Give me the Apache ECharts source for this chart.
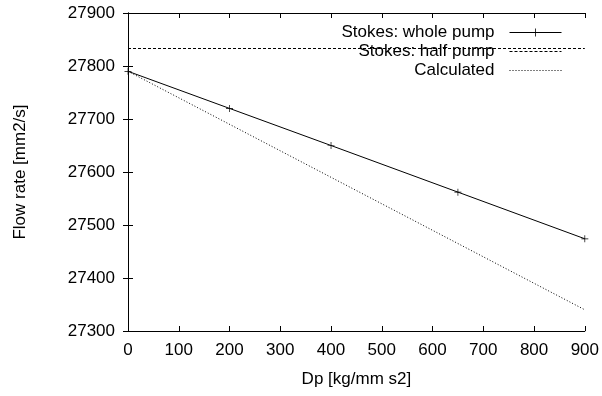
<!DOCTYPE html>
<html>
<head>
<meta charset="utf-8">
<script src="https://cdn.jsdelivr.net/npm/echarts@6/dist/echarts.min.js"></script>
<style>
  html, body { margin: 0; padding: 0; background: #fff; }
  #chart { width: 602px; height: 396px; }
</style>
</head>
<body>
<div id="chart"></div>
<script>
// values
const wholePumpX = [0, 200, 400, 650, 900];
const wholePumpY = [27790, 27720, 27650, 27562, 27474];
const halfPumpX = [0, 900];
const halfPumpY = [27833, 27833];
const calculatedX = [0, 900];
const calculatedY = [27790, 27340];

const xTicks = { min: 0, max: 900, interval: 100 };
const yTicks = { min: 27300, max: 27900, interval: 100 };

const font = 'Liberation Sans, Arial, sans-serif';
const fontSize = 17;
const plus = 'path://M0,4.5h10v1h-10z M4.5,0h1v10h-1z';

const zip = (xs, ys) => xs.map((x, i) => [x, ys[i]]);

const inTicks = { show: true, inside: true, length: 5, lineStyle: { color: '#000' } };
const axisLine = { show: true, lineStyle: { color: '#000', width: 1 } };
const noSymbol = { itemStyle: { opacity: 0 } };

const chart = echarts.init(document.getElementById('chart'), null, { renderer: 'canvas' });

chart.setOption({
  animation: false,
  textStyle: { fontFamily: font },
  grid: { left: 128, right: 16, top: 13, bottom: 65 },
  legend: {
    orient: 'vertical',
    right: 35,
    top: 19,
    align: 'right',
    itemWidth: 52,
    itemHeight: 10,
    itemGap: 2,
    lineStyle: { width: 1 },
    textStyle: { fontSize: fontSize, color: '#000', fontFamily: font, padding: [0, 10, 0, 0] },
    data: [
      { name: 'Stokes: whole pump' },
      { name: 'Stokes: half pump', ...noSymbol },
      { name: 'Calculated', ...noSymbol }
    ]
  },
  xAxis: [
    {
      type: 'value',
      ...xTicks,
      name: 'Dp [kg/mm s2]',
      nameLocation: 'middle',
      nameGap: 40,
      nameTextStyle: { fontSize: fontSize, color: '#000' },
      axisLine, axisTick: inTicks,
      axisLabel: { fontSize: fontSize, color: '#000', margin: 11 },
      splitLine: { show: false }
    },
    {
      type: 'value', position: 'top',
      ...xTicks,
      axisLine, axisTick: inTicks,
      axisLabel: { show: false },
      splitLine: { show: false }
    }
  ],
  yAxis: [
    {
      type: 'value',
      ...yTicks,
      name: 'Flow rate [mm2/s]',
      nameLocation: 'middle',
      nameGap: 99,
      nameRotate: 90,
      nameTextStyle: { fontSize: fontSize, color: '#000' },
      axisLine, axisTick: inTicks,
      axisLabel: { fontSize: fontSize, color: '#000', margin: 13, formatter: (v) => String(v) },
      splitLine: { show: false }
    },
    {
      type: 'value', position: 'right',
      ...yTicks,
      axisLine, axisTick: inTicks,
      axisLabel: { show: false },
      splitLine: { show: false }
    }
  ],
  series: [
    {
      name: 'Stokes: whole pump',
      type: 'line',
      data: zip(wholePumpX, wholePumpY),
      symbol: plus,
      symbolSize: 7,
      showSymbol: true,
      itemStyle: { color: '#000' },
      lineStyle: { color: '#000', width: 1 }
    },
    {
      name: 'Stokes: half pump',
      type: 'line',
      data: zip(halfPumpX, halfPumpY),
      symbol: 'none',
      itemStyle: { color: '#000' },
      lineStyle: { color: '#000', width: 1, type: [3, 2] }
    },
    {
      name: 'Calculated',
      type: 'line',
      data: zip(calculatedX, calculatedY),
      symbol: 'none',
      itemStyle: { color: '#000' },
      lineStyle: { color: '#000', width: 1, type: [1, 2] }
    }
  ]
});
</script>
</body>
</html>
